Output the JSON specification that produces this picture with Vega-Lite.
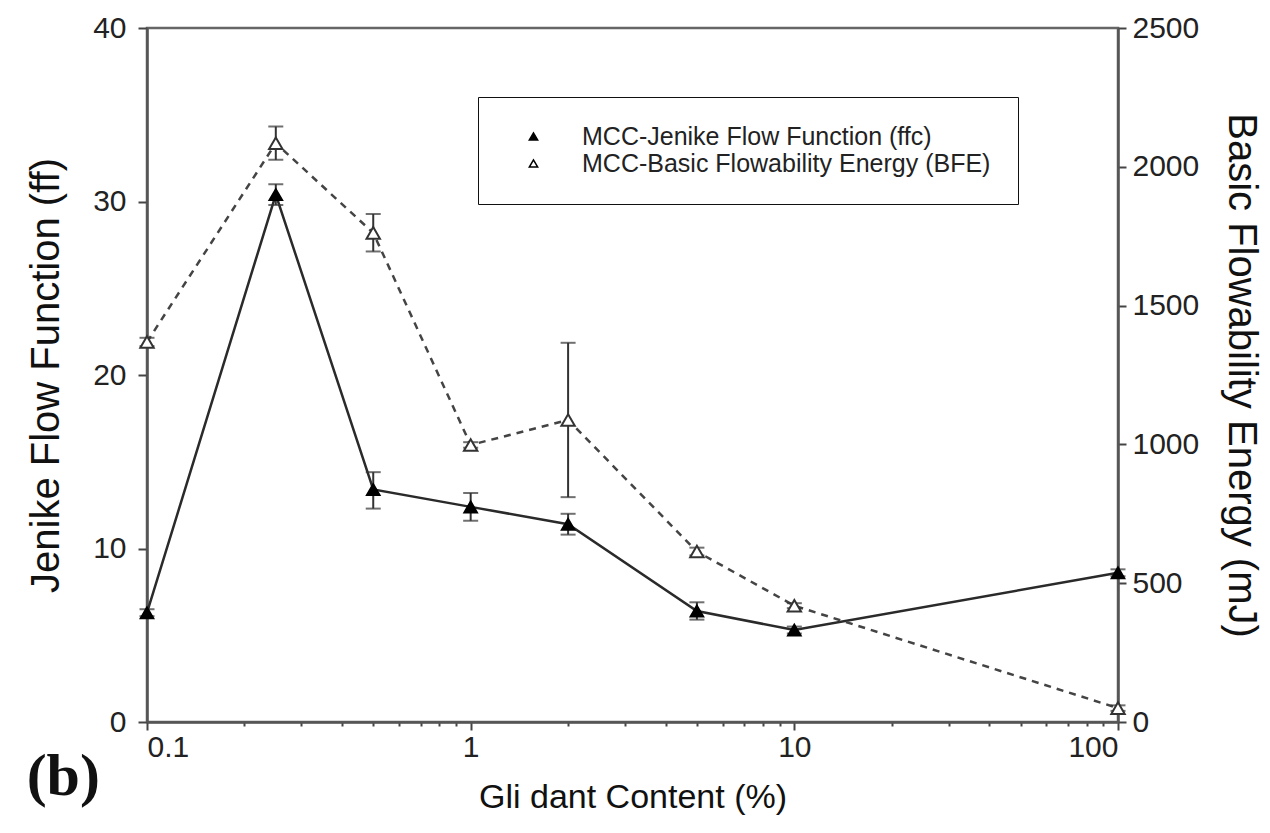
{
  "$schema": "https://vega.github.io/schema/vega-lite/v6.json",
  "width": 971,
  "height": 694,
  "autosize": "none",
  "padding": {"left": 147, "top": 28, "right": 152, "bottom": 111},
  "background": "white",
  "config": {
    "font": "Liberation Sans",
    "view": {"stroke": "#666", "strokeWidth": 2.5},
    "axis": {"labelFont": "Liberation Sans", "titleFont": "Liberation Sans", "labelColor": "#222", "titleColor": "#111", "domainColor": "#555", "domainWidth": 2.5, "tickColor": "#444", "tickWidth": 2, "grid": false, "titleFontWeight": "normal"}
  },
  "title": {"text": "(b)", "orient": "bottom", "anchor": "start", "frame": "bounds", "font": "Liberation Serif", "fontSize": 60, "fontWeight": "bold", "color": "#111", "dx": 0, "dy": -70},
  "datasets": {
    "jenike": [
      {"x": 0.1, "series": "MCC-Jenike Flow Function (ffc)", "val": 6.3, "lo": 6.1, "hi": 6.5},
      {"x": 0.25, "series": "MCC-Jenike Flow Function (ffc)", "val": 30.4, "lo": 29.8, "hi": 31.0},
      {"x": 0.5, "series": "MCC-Jenike Flow Function (ffc)", "val": 13.4, "lo": 12.3, "hi": 14.4},
      {"x": 1, "series": "MCC-Jenike Flow Function (ffc)", "val": 12.4, "lo": 11.6, "hi": 13.2},
      {"x": 2, "series": "MCC-Jenike Flow Function (ffc)", "val": 11.4, "lo": 10.8, "hi": 12.0},
      {"x": 5, "series": "MCC-Jenike Flow Function (ffc)", "val": 6.4, "lo": 5.9, "hi": 6.9},
      {"x": 10, "series": "MCC-Jenike Flow Function (ffc)", "val": 5.3, "lo": 5.1, "hi": 5.5},
      {"x": 100, "series": "MCC-Jenike Flow Function (ffc)", "val": 8.6, "lo": 8.4, "hi": 8.8}
    ],
    "bfe": [
      {"x": 0.1, "series": "MCC-Basic Flowability Energy (BFE)", "val": 1369, "lo": 1354, "hi": 1384},
      {"x": 0.25, "series": "MCC-Basic Flowability Energy (BFE)", "val": 2085, "lo": 2025, "hi": 2145},
      {"x": 0.5, "series": "MCC-Basic Flowability Energy (BFE)", "val": 1762, "lo": 1695, "hi": 1830},
      {"x": 1, "series": "MCC-Basic Flowability Energy (BFE)", "val": 998, "lo": 988, "hi": 1008},
      {"x": 2, "series": "MCC-Basic Flowability Energy (BFE)", "val": 1088, "lo": 810, "hi": 1366},
      {"x": 5, "series": "MCC-Basic Flowability Energy (BFE)", "val": 614, "lo": 600, "hi": 628},
      {"x": 10, "series": "MCC-Basic Flowability Energy (BFE)", "val": 419, "lo": 410, "hi": 428},
      {"x": 100, "series": "MCC-Basic Flowability Energy (BFE)", "val": 50, "lo": 40, "hi": 60}
    ]
  },
  "encoding": {
    "x": {
      "field": "x", "type": "quantitative",
      "scale": {"type": "log", "domain": [0.1, 100]},
      "axis": {
        "title": "Gli dant Content (%)",
        "titleFontSize": 34,
        "titlePadding": 18,
        "labelFontSize": 30,
        "labelPadding": 2,
        "format": "~g",
        "values": [0.1, 0.2, 0.3, 0.4, 0.5, 0.6, 0.7, 0.8, 0.9, 1, 2, 3, 4, 5, 6, 7, 8, 9, 10, 20, 30, 40, 50, 60, 70, 80, 90, 100],
        "labelExpr": "(datum.value == 0.1 || datum.value == 1 || datum.value == 10 || datum.value == 100) ? datum.label : ''",
        "tickSize": {"condition": {"test": "datum.value == 0.1 || datum.value == 1 || datum.value == 10 || datum.value == 100", "value": 8}, "value": 4}
      }
    }
  },
  "layer": [
    {
      "data": {"name": "jenike"},
      "encoding": {
        "y": {
          "field": "val", "type": "quantitative",
          "scale": {"domain": [0, 40]},
          "axis": {"orient": "left", "title": "Jenike Flow Function (ff)", "titleFontSize": 40, "titlePadding": 26, "labelFontSize": 30, "values": [0, 10, 20, 30, 40], "tickSize": 9, "labelPadding": 12}
        }
      },
      "layer": [
        {"mark": {"type": "line", "color": "#2a2a2a", "strokeWidth": 2.5}},
        {"mark": {"type": "rule", "color": "#333", "strokeWidth": 2},
         "encoding": {"y": {"field": "lo", "type": "quantitative"}, "y2": {"field": "hi"}}},
        {"mark": {"type": "tick", "orient": "horizontal", "color": "#333", "size": 15, "thickness": 2},
         "encoding": {"y": {"field": "lo", "type": "quantitative"}}},
        {"mark": {"type": "tick", "orient": "horizontal", "color": "#333", "size": 15, "thickness": 2},
         "encoding": {"y": {"field": "hi", "type": "quantitative"}}},
        {"mark": {"type": "point", "shape": "triangle-up", "size": 180, "filled": true, "stroke": "#000", "strokeWidth": 1.5, "opacity": 1},
         "encoding": {"fill": {"field": "series", "type": "nominal",
           "scale": {"domain": ["MCC-Jenike Flow Function (ffc)", "MCC-Basic Flowability Energy (BFE)"], "range": ["#000000", "#ffffff"]},
           "legend": {"orient": "none", "legendX": 331, "legendY": 69, "title": null, "symbolType": "triangle-up", "symbolStrokeColor": "#000", "symbolStrokeWidth": 1.5, "symbolSize": 70, "symbolOffset": 16, "labelFontSize": 25, "labelColor": "#222", "labelOffset": 36, "labelLimit": 700, "rowPadding": 1, "padding": 27, "strokeColor": "#111", "fillColor": "#ffffff"}}}}
      ]
    },
    {
      "data": {"name": "bfe"},
      "encoding": {
        "y": {
          "field": "val", "type": "quantitative",
          "scale": {"domain": [0, 2500]},
          "axis": {"orient": "right", "title": "Basic Flowability Energy (mJ)", "titleFontSize": 40, "titlePadding": 22, "labelFontSize": 30, "format": "d", "values": [0, 500, 1000, 1500, 2000, 2500], "tickSize": 8, "labelPadding": 6}
        }
      },
      "layer": [
        {"mark": {"type": "line", "color": "#444", "strokeWidth": 2.5, "strokeDash": [7, 6]}},
        {"mark": {"type": "rule", "color": "#333", "strokeWidth": 2},
         "encoding": {"y": {"field": "lo", "type": "quantitative"}, "y2": {"field": "hi"}}},
        {"mark": {"type": "tick", "orient": "horizontal", "color": "#333", "size": 15, "thickness": 2},
         "encoding": {"y": {"field": "lo", "type": "quantitative"}}},
        {"mark": {"type": "tick", "orient": "horizontal", "color": "#333", "size": 15, "thickness": 2},
         "encoding": {"y": {"field": "hi", "type": "quantitative"}}},
        {"mark": {"type": "point", "shape": "triangle-up", "size": 180, "filled": true, "stroke": "#333", "strokeWidth": 2, "opacity": 1},
         "encoding": {"fill": {"field": "series", "type": "nominal",
           "scale": {"domain": ["MCC-Jenike Flow Function (ffc)", "MCC-Basic Flowability Energy (BFE)"], "range": ["#000000", "#ffffff"]}}}}
      ]
    }
  ],
  "resolve": {"scale": {"y": "independent"}}
}
